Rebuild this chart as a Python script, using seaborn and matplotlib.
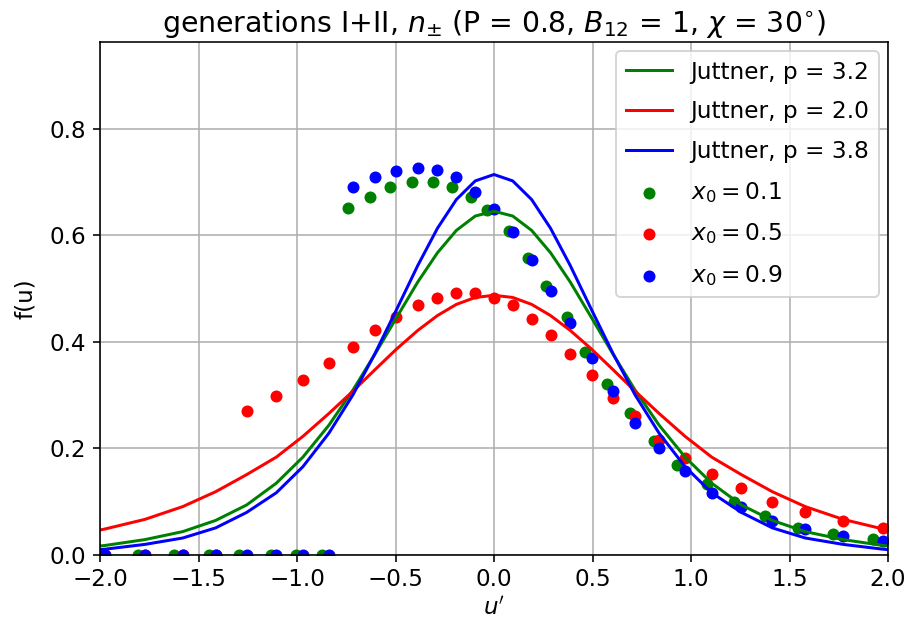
import matplotlib
matplotlib.use("Agg")
import matplotlib.pyplot as plt
import seaborn as sns

# ---- data ----
u_grid = [-1.974, -1.772, -1.580, -1.413, -1.256, -1.105, -0.970, -0.838, -0.716, -0.605,
          -0.495, -0.387, -0.287, -0.191, -0.095, 0.000, 0.095, 0.191, 0.287, 0.387,
          0.495, 0.605, 0.716, 0.838, 0.970, 1.105, 1.256, 1.413, 1.580, 1.772, 1.974]

f_x09 = [0, 0, 0, 0, 0, 0, 0, 0, 0.690, 0.709, 0.721, 0.726, 0.722, 0.709, 0.681, 0.650,
         0.606, 0.554, 0.496, 0.435, 0.369, 0.307, 0.248, 0.200, 0.156, 0.116, 0.090,
         0.063, 0.047, 0.034, 0.025]

f_x05 = [0, 0, 0, 0, 0.270, 0.297, 0.328, 0.359, 0.389, 0.421, 0.446, 0.469, 0.482, 0.491,
         0.491, 0.482, 0.469, 0.443, 0.412, 0.377, 0.337, 0.294, 0.260, 0.216, 0.182,
         0.152, 0.125, 0.099, 0.079, 0.063, 0.050]

u_x01 = [-1.990, -1.807, -1.624, -1.447, -1.294, -1.132, -1.005, -0.873, -0.740, -0.630,
         -0.526, -0.418, -0.310, -0.215, -0.118, -0.034, 0.078, 0.171, 0.264, 0.372,
         0.460, 0.572, 0.690, 0.814, 0.927, 1.080, 1.220, 1.376, 1.545, 1.720, 1.925]
f_x01 = [0, 0, 0, 0, 0, 0, 0, 0, 0.651, 0.672, 0.691, 0.700, 0.700, 0.690, 0.672, 0.647,
         0.607, 0.557, 0.504, 0.446, 0.380, 0.321, 0.266, 0.213, 0.168, 0.133, 0.098,
         0.072, 0.050, 0.038, 0.029]

u_line = [-2.000, -1.974, -1.772, -1.580, -1.413, -1.256, -1.105, -0.970, -0.838, -0.716,
          -0.605, -0.495, -0.387, -0.287, -0.191, -0.095, 0.000, 0.095, 0.191, 0.287,
          0.387, 0.495, 0.605, 0.716, 0.838, 0.970, 1.105, 1.256, 1.413, 1.580, 1.772,
          1.974, 2.000]
j_p32 = [0.016, 0.017, 0.028, 0.043, 0.064, 0.093, 0.134, 0.183, 0.243, 0.309, 0.376,
         0.445, 0.512, 0.567, 0.609, 0.636, 0.645, 0.636, 0.609, 0.567, 0.512, 0.445,
         0.376, 0.309, 0.243, 0.183, 0.134, 0.093, 0.064, 0.043, 0.028, 0.017, 0.016]
j_p20 = [0.046, 0.048, 0.066, 0.090, 0.118, 0.150, 0.183, 0.222, 0.265, 0.307, 0.347,
         0.386, 0.421, 0.449, 0.470, 0.483, 0.487, 0.483, 0.470, 0.449, 0.421, 0.386,
         0.347, 0.307, 0.265, 0.222, 0.183, 0.150, 0.118, 0.090, 0.066, 0.048, 0.046]
j_p38 = [0.0092, 0.010, 0.019, 0.031, 0.050, 0.079, 0.116, 0.165, 0.228, 0.300, 0.377,
         0.460, 0.543, 0.613, 0.667, 0.702, 0.714, 0.702, 0.667, 0.613, 0.543, 0.460,
         0.377, 0.300, 0.228, 0.165, 0.116, 0.079, 0.050, 0.031, 0.019, 0.010, 0.0092]

line_labels = ["Juttner, p = 3.2", "Juttner, p = 2.0", "Juttner, p = 3.8"]
scatter_labels = ["$x_0 = 0.1$", "$x_0 = 0.5$", "$x_0 = 0.9$"]
title = "generations I+II, $n_{\\pm}$ (P = 0.8, $B_{12}$ = 1, $\\chi$ = 30$^{\\circ}$)"

# ---- figure ----
W, H, DPI = 907, 631, 144
fig = plt.figure(figsize=(W / DPI, H / DPI), dpi=DPI)
ax = fig.add_axes([100 / W, (H - 554.5) / H, 788 / W, 512.5 / H])

for y, c, lab in zip([j_p32, j_p20, j_p38], ["g", "r", "b"], line_labels):
    sns.lineplot(x=u_line, y=y, color=c, label=lab, ax=ax, estimator=None, lw=1.5)

for x, y, c, lab in zip([u_x01, u_grid, u_grid], [f_x01, f_x05, f_x09], ["g", "r", "b"],
                        scatter_labels):
    sns.scatterplot(x=x, y=y, color=c, label=lab, ax=ax, s=36, linewidth=0)

ax.set_xlim(-2.0, 2.0)
ax.set_ylim(0, 0.963)
ax.set_yticks([0.0, 0.2, 0.4, 0.6, 0.8])
ax.grid(True, color="#b0b0b0", lw=0.8)
ax.set_axisbelow(True)
ax.set_xlabel("$u'$", fontsize=11.5, labelpad=3)
ax.set_ylabel("f(u)", fontsize=11.5, labelpad=6)
ax.set_title(title, fontsize=14.2, pad=5)
ax.tick_params(labelsize=11.5)
ax.legend(loc="upper right", fontsize=11.6, scatterpoints=1, labelspacing=0.72,
          borderaxespad=0.4)

fig.savefig("out.png", dpi=DPI)
